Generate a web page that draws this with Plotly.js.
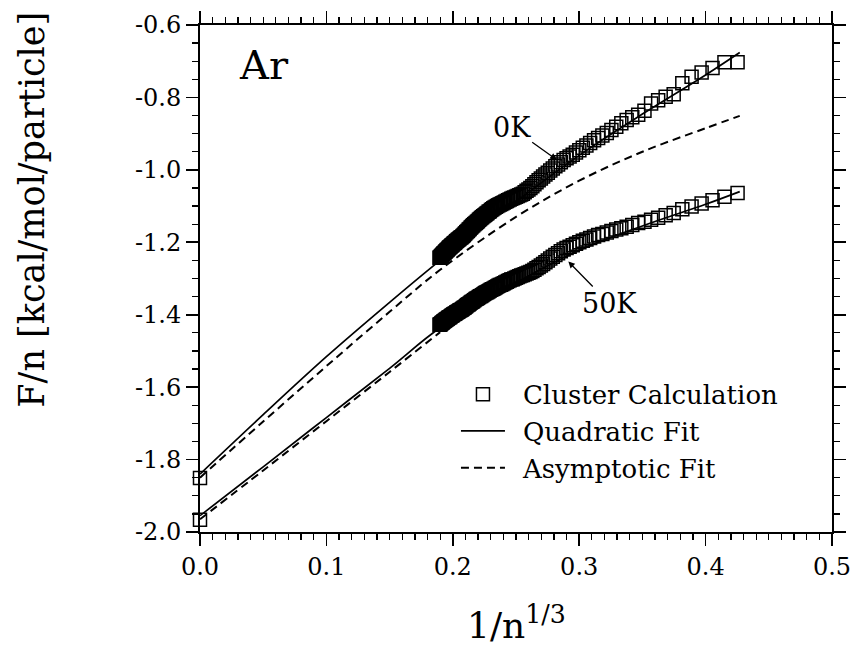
<!DOCTYPE html>
<html>
<head>
<meta charset="utf-8">
<script src="https://cdn.plot.ly/plotly-3.0.1.min.js"></script>
<style>
  html, body { margin: 0; padding: 0; background: #fff; }
  #chart { width: 853px; height: 652px; }
</style>
</head>
<body>
<div id="chart"></div>
<script>
// Cluster sizes n (plotted as 1/n^(1/3))
const clusterSize = [
  13,14,15,16,17,18,19,20,21,22,23,24,25,26,27,28,29,30,31,32,33,34,35,36,37,38,39,40,
  41,42,43,44,45,46,47,48,49,50,51,52,53,54,55,56,57,58,59,60,61,62,63,64,65,66,67,68,69,70,
  71,72,73,74,75,76,77,78,79,80,81,82,83,84,85,86,87,88,89,90,91,92,93,94,95,96,97,98,99,100,
  101,102,103,104,105,106,107,108,109,110,111,112,113,114,115,116,117,118,119,120,
  121,122,123,124,125,126,127,128,129,130,131,132,133,134,135,136,137,138,139,140,
  141,142,143,144,145,146,147
];

// Free energy per particle, kcal/mol/particle, at 0 K
const energy0K = [
  -0.703,-0.703,-0.719,-0.731,-0.743,-0.761,-0.791,-0.798,-0.808,-0.817,-0.837,-0.848,-0.855,-0.862,-0.871,-0.881,
  -0.890,-0.898,-0.905,-0.912,-0.918,-0.926,-0.933,-0.939,-0.946,-0.952,-0.958,-0.963,
  -0.968,-0.973,-0.979,-0.985,-0.990,-0.996,-1.002,-1.008,-1.013,-1.018,-1.024,-1.029,-1.034,-1.040,-1.045,-1.050,
  -1.054,-1.058,-1.062,-1.066,-1.068,-1.070,-1.072,-1.074,-1.076,-1.078,-1.080,-1.082,-1.084,-1.086,
  -1.088,-1.090,-1.092,-1.094,-1.096,-1.098,-1.100,-1.102,-1.104,-1.106,-1.109,-1.111,-1.114,-1.116,-1.119,-1.121,
  -1.124,-1.126,-1.128,-1.131,-1.133,-1.136,-1.138,-1.141,-1.143,-1.146,-1.148,-1.150,-1.153,-1.155,
  -1.158,-1.160,-1.163,-1.165,-1.168,-1.170,-1.172,-1.175,-1.177,-1.180,-1.182,-1.184,-1.186,-1.187,-1.189,-1.191,
  -1.192,-1.194,-1.196,-1.197,-1.199,-1.201,-1.203,-1.204,-1.206,-1.208,-1.209,-1.211,-1.213,-1.214,
  -1.216,-1.218,-1.220,-1.221,-1.223,-1.225,-1.226,-1.228,-1.230,-1.231,-1.233,-1.235,-1.237,-1.238,
  -1.240,-1.242,-1.243
];

// Free energy per particle at 50 K
const energy50K = [
  -1.064,-1.074,-1.084,-1.093,-1.101,-1.109,-1.119,-1.125,-1.132,-1.138,-1.143,-1.147,-1.152,-1.157,-1.161,-1.165,
  -1.169,-1.173,-1.177,-1.180,-1.184,-1.188,-1.192,-1.196,-1.200,-1.204,-1.208,-1.212,
  -1.216,-1.220,-1.225,-1.230,-1.235,-1.240,-1.245,-1.250,-1.255,-1.260,-1.264,-1.268,-1.272,-1.276,-1.279,-1.282,
  -1.284,-1.286,-1.288,-1.290,-1.292,-1.294,-1.296,-1.298,-1.300,-1.302,-1.303,-1.305,-1.307,-1.309,
  -1.311,-1.313,-1.315,-1.317,-1.318,-1.320,-1.322,-1.324,-1.326,-1.328,-1.330,-1.331,-1.333,-1.335,-1.337,-1.339,
  -1.340,-1.342,-1.344,-1.346,-1.348,-1.349,-1.351,-1.353,-1.355,-1.356,-1.358,-1.360,-1.362,-1.364,
  -1.365,-1.367,-1.369,-1.371,-1.372,-1.374,-1.376,-1.378,-1.380,-1.381,-1.383,-1.384,-1.386,-1.387,-1.388,-1.389,
  -1.391,-1.392,-1.393,-1.394,-1.396,-1.397,-1.398,-1.399,-1.401,-1.402,-1.403,-1.404,-1.406,-1.407,
  -1.408,-1.409,-1.411,-1.412,-1.413,-1.414,-1.416,-1.417,-1.418,-1.419,-1.421,-1.422,-1.423,-1.424,
  -1.426,-1.427,-1.428
];

// Bulk (n -> infinity) values
const bulkX = [0];
const bulk0K = [-1.851];
const bulk50K = [-1.966];

// Fit curves sampled along 1/n^(1/3)
const fitX      = [0, 0.05, 0.10, 0.15, 0.19, 0.25, 0.30, 0.35, 0.40, 0.427];
const quad0K    = [-1.840, -1.676, -1.516, -1.366, -1.250, -1.088, -0.960, -0.846, -0.738, -0.676];
const asym0K    = [-1.850, -1.695, -1.542, -1.392, -1.276, -1.130, -1.030, -0.950, -0.885, -0.851];
const quad50K   = [-1.955, -1.820, -1.684, -1.548, -1.436, -1.312, -1.222, -1.155, -1.095, -1.060];
const asymX50K  = [0, 0.05, 0.10, 0.15, 0.19];
const asym50K   = [-1.965, -1.830, -1.694, -1.558, -1.448];

const yTickVals = [-2.0, -1.8, -1.6, -1.4, -1.2, -1.0, -0.8, -0.6];
const yTickText = ['-2.0', '-1.8', '-1.6', '-1.4', '-1.2', '-1.0', '-0.8', '-0.6'];

const invCubeRoot = n => Math.pow(n, -1 / 3);
const clusterX = clusterSize.map(invCubeRoot);

const FONT = 'DejaVu Serif, Liberation Serif, serif';
const squareMarker = { symbol: 'square-open', size: 13, color: '#000', line: { width: 1.5, color: '#000' } };
const solidLine = { color: '#000', width: 1.7, shape: 'spline', smoothing: 1 };
const dashLine = { color: '#000', width: 2, dash: '8px,5px', shape: 'spline', smoothing: 1 };

const traces = [
  { x: fitX, y: quad0K, mode: 'lines', line: solidLine, name: '\u2002Quadratic Fit', showlegend: true, legendrank: 2 },
  { x: fitX, y: asym0K, mode: 'lines', line: dashLine, name: '\u2002Asymptotic Fit', showlegend: true, legendrank: 3 },
  { x: fitX, y: quad50K, mode: 'lines', line: solidLine, showlegend: false },
  { x: asymX50K, y: asym50K, mode: 'lines', line: dashLine, showlegend: false },
  { x: clusterX, y: energy0K, mode: 'markers', marker: squareMarker, name: '\u2002Cluster Calculation', showlegend: true, legendrank: 1, cliponaxis: false },
  { x: clusterX, y: energy50K, mode: 'markers', marker: squareMarker, showlegend: false, cliponaxis: false },
  { x: bulkX, y: bulk0K, mode: 'markers', marker: squareMarker, showlegend: false, cliponaxis: false },
  { x: bulkX, y: bulk50K, mode: 'markers', marker: squareMarker, showlegend: false, cliponaxis: false }
];

const axisCommon = {
  showgrid: false, zeroline: false,
  showline: true, linecolor: '#000', linewidth: 2,
  mirror: 'allticks', ticks: 'outside', ticklen: 12, tickwidth: 1.6, tickcolor: '#000',
  tickfont: { family: FONT, size: 24, color: '#000' }
};

const layout = {
  width: 853, height: 652,
  margin: { l: 200, r: 21, t: 25, b: 120 },
  paper_bgcolor: '#fff', plot_bgcolor: '#fff',
  font: { family: FONT, color: '#000' },
  xaxis: Object.assign({}, axisCommon, {
    range: [0, 0.5], tickmode: 'linear', tick0: 0, dtick: 0.1, tickformat: '.1f',
    minor: { dtick: 0.01, tick0: 0, ticks: 'outside', ticklen: 6, tickwidth: 1.3, tickcolor: '#000' }
  }),
  yaxis: Object.assign({}, axisCommon, {
    range: [-2.0, -0.6], tickmode: 'array', tickvals: yTickVals, ticktext: yTickText,
    minor: { dtick: 0.05, tick0: -2.0, ticks: 'outside', ticklen: 6, tickwidth: 1.3, tickcolor: '#000' }
  }),
  showlegend: true,
  legend: {
    x: 0.405, y: 0.318, xanchor: 'left', yanchor: 'top',
    bgcolor: 'rgba(0,0,0,0)', borderwidth: 0,
    itemwidth: 44, tracegroupgap: 0,
    font: { family: FONT, size: 26, color: '#000' }
  },
  annotations: [
    { text: 'Ar', x: 0.029, y: -0.71, xref: 'x', yref: 'y', xanchor: 'left', yanchor: 'middle',
      showarrow: false, font: { family: FONT, size: 40, color: '#000' } },
    { text: '0K', x: 0.2822, y: -0.972, xref: 'x', yref: 'y', ax: -45, ay: -32,
      showarrow: true, arrowhead: 2, arrowsize: 1, arrowwidth: 1.3, arrowcolor: '#000',
      font: { family: FONT, size: 27, color: '#000' } },
    { text: '50K', x: 0.2914, y: -1.253, xref: 'x', yref: 'y', ax: 41, ay: 42,
      showarrow: true, arrowhead: 2, arrowsize: 1, arrowwidth: 1.3, arrowcolor: '#000',
      font: { family: FONT, size: 27, color: '#000' } },
    { text: 'F/n [kcal/mol/particle]', x: -0.266, y: 0.6355, xref: 'paper', yref: 'paper',
      xanchor: 'center', yanchor: 'middle', textangle: -90, showarrow: false,
      font: { family: FONT, size: 35, color: '#000' } },
    { text: '1/n<sup>1/3</sup>', x: 0.5, y: -0.18, xref: 'paper', yref: 'paper',
      xanchor: 'center', yanchor: 'middle', showarrow: false,
      font: { family: FONT, size: 36, color: '#000' } }
  ]
};

Plotly.newPlot('chart', traces, layout, { displayModeBar: false, staticPlot: true });
</script>
</body>
</html>
